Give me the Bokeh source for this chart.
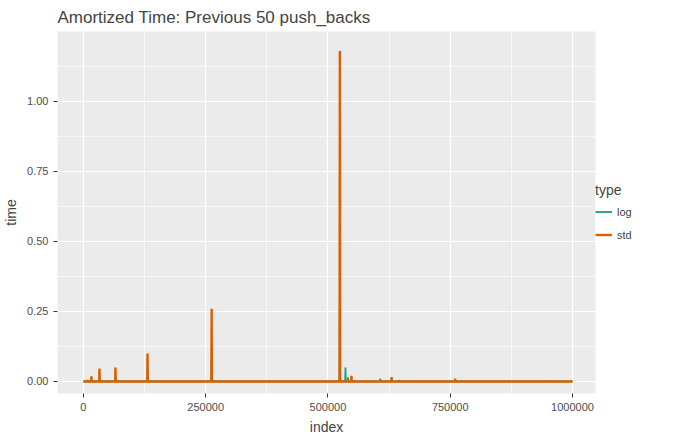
from bokeh.plotting import figure
from bokeh.models import Legend, LegendItem, FixedTicker, NumeralTickFormatter, CustomJSTickFormatter
from bokeh.embed import file_html
from bokeh.resources import INLINE

# spike positions/heights; baseline is ~0
std_idx = [8192, 16384, 32768, 65536, 131072, 262144, 524288, 548000, 630000, 760000]
std_val = [0.005, 0.018, 0.046, 0.05, 0.1, 0.26, 1.18, 0.02, 0.016, 0.01]
log_idx = [262144, 524288, 535800, 541000, 607000, 646000, 945000]
log_val = [0.08, 0.28, 0.05, 0.015, 0.01, 0.006, 0.005]
x_start, x_end = 0, 1000000

def spikes(idx, val):
    xs, ys = [x_start], [0.0]
    for i, v in zip(idx, val):
        xs += [i - 600, i, i + 600]
        ys += [0.0, v, 0.0]
    xs.append(x_end)
    ys.append(0.0)
    return xs, ys

p = figure(frame_width=538, frame_height=362, x_range=(-53000, 1047000), y_range=(-0.043, 1.25),
           output_backend="svg", toolbar_location=None,
           title="Amortized Time: Previous 50 push_backs",
           min_border_left=39, min_border_top=22, min_border_bottom=39, min_border_right=10)
p.background_fill_color = "#EBEBEB"
p.border_fill_color = "white"
p.outline_line_color = None
p.title.text_font = "Liberation Sans"
p.title.text_font_size = "17px"
p.title.text_font_style = "normal"

for ax in (p.xaxis, p.yaxis):
    ax.axis_line_color = None
    ax.major_tick_line_color = "#333333"
    ax.minor_tick_line_color = None
    ax.major_tick_out = 4
    ax.major_tick_in = 0
    ax.major_label_text_color = "#4D4D4D"
    ax.major_label_text_font = "Liberation Sans"
    ax.major_label_text_font_size = "11px"
    ax.axis_label_text_font = "Liberation Sans"
    ax.axis_label_text_font_size = "14px"
    ax.axis_label_text_font_style = "normal"
p.xaxis.axis_label = "index"
p.yaxis.axis_label = "time"
p.xaxis.ticker = FixedTicker(ticks=[0, 250000, 500000, 750000, 1000000],
                             minor_ticks=[-125000, 125000, 375000, 625000, 875000])
p.yaxis.ticker = FixedTicker(ticks=[0, 0.25, 0.5, 0.75, 1.0],
                             minor_ticks=[0.125, 0.375, 0.625, 0.875, 1.125])
p.xaxis.formatter = CustomJSTickFormatter(code="return tick.toFixed(0);")
p.yaxis.formatter = NumeralTickFormatter(format="0.00")
p.grid.grid_line_color = "white"
p.grid.grid_line_width = 1.2
p.grid.minor_grid_line_color = "white"
p.grid.minor_grid_line_width = 0.6

lx, ly = spikes(log_idx, log_val)
sx, sy = spikes(std_idx, std_val)
r_log = p.line(lx, ly, line_color="#1B9E77", line_width=1.8)
r_std = p.line(sx, sy, line_color="#D95F02", line_width=2.4)

legend = Legend(items=[LegendItem(label="log", renderers=[r_log]),
                       LegendItem(label="std", renderers=[r_std])],
                title="type", location=(0, 150), border_line_color=None,
                background_fill_color="white", inactive_fill_color="#EBEBEB",
                label_text_font="Liberation Sans", label_text_font_size="11px",
                title_text_font="Liberation Sans", title_text_font_size="14px",
                title_text_font_style="normal", margin=18,
                glyph_width=17, glyph_height=17, spacing=6, padding=6)
p.add_layout(legend, "right")

open("out.html", "w").write(file_html(p, INLINE))
